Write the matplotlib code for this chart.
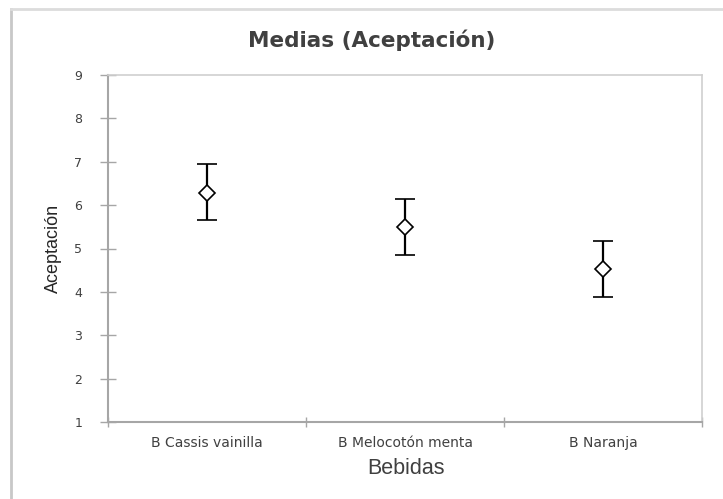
import numpy as np
import matplotlib.pyplot as plt
from matplotlib.lines import Line2D

bebidas = ['B Cassis vainilla', 'B Melocotón menta', 'B Naranja']
medias = [6.29, 5.50, 4.53]
lim_inf = [5.65, 4.84, 3.88]
lim_sup = [6.94, 6.14, 5.18]
y_ticks = [1, 2, 3, 4, 5, 6, 7, 8, 9]

gris = '#a6a6a6'
texto = '#404040'

fig = plt.figure(figsize=(7.23, 4.99), dpi=100)
ax = fig.add_axes([108 / 723, 1 - 422 / 499, 594 / 723, 347 / 499])

x = np.arange(len(bebidas))
med = np.array(medias)
err = [med - np.array(lim_inf), np.array(lim_sup) - med]
ax.errorbar(x, med, yerr=err, fmt='D', color='black', ecolor='black',
            elinewidth=1.6, capsize=7, capthick=1.6, markersize=8,
            markerfacecolor='white', markeredgecolor='black', markeredgewidth=1.2)

ax.set_xlim(-0.5, len(bebidas) - 0.5)
ax.set_ylim(1, 9)
ax.set_yticks(y_ticks)
ax.set_yticklabels([str(v) for v in y_ticks], fontname='DejaVu Sans', fontsize=9, color=texto)

# tick marks between categories, labels centred on each category
ax.set_xticks(np.arange(len(bebidas) + 1) - 0.5)
ax.set_xticklabels([])
ax.set_xticks(x, minor=True)
ax.set_xticklabels(bebidas, minor=True, fontname='DejaVu Sans', fontsize=10, color=texto)
ax.tick_params(axis='x', which='minor', length=0, pad=10)
ax.tick_params(axis='x', which='major', direction='inout', length=7, color=gris, width=1)
ax.tick_params(axis='y', direction='inout', length=11, color=gris, width=1, pad=13)

for side in ['left', 'bottom']:
    ax.spines[side].set_color(gris)
    ax.spines[side].set_linewidth(1.5)
for side in ['top', 'right']:
    ax.spines[side].set_color('#cfcfcf')
    ax.spines[side].set_linewidth(1.2)

ax.set_ylabel('Aceptación', fontname='Liberation Sans', fontsize=13, color='#262626', labelpad=9)
fig.text(406 / 723, 1 - 468 / 499, 'Bebidas', ha='center', va='center',
         fontname='Liberation Sans', fontsize=15.5, color=texto)
fig.text(371.5 / 723, 1 - 40 / 499, 'Medias (Aceptación)', ha='center', va='center',
         fontname='DejaVu Sans', fontsize=15.5, fontweight='bold', color=texto)

# marco exterior del gráfico
fig.add_artist(Line2D([11 / 723, 11 / 723], [0, 1 - 9 / 499], color='#c8c8c8', lw=2))
fig.add_artist(Line2D([11 / 723, 1], [1 - 9 / 499, 1 - 9 / 499], color='#dcdcdc', lw=2))

fig.savefig('out.png', dpi=100)
